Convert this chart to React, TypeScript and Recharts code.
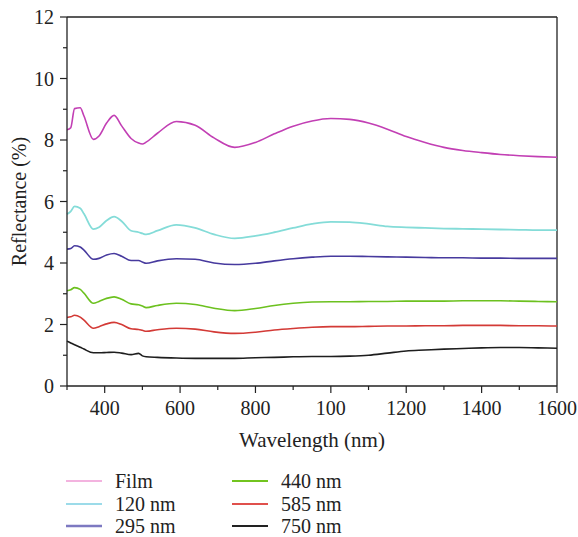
import { Label, Line, LineChart, ReferenceLine, XAxis, YAxis } from "recharts";

// sample wavelengths (nm) shared by every curve
const wavelengths = [
  300, 310, 320, 335, 345, 370, 385, 405, 425, 445, 470, 490, 500, 510, 540, 590, 640, 690, 745, 800, 850,
  900, 950, 1000, 1050, 1100, 1150, 1200, 1250, 1300, 1350, 1400, 1450, 1500, 1550, 1600,
];

const film = [
  8.33, 8.4, 9.02, 9.05, 8.78, 8.02, 8.13, 8.55, 8.8, 8.46, 8.05, 7.9, 7.87, 7.93, 8.22, 8.6, 8.48, 8.07, 7.76,
  7.92, 8.2, 8.45, 8.62, 8.7, 8.67, 8.55, 8.35, 8.11, 7.92, 7.76, 7.66, 7.59, 7.53, 7.49, 7.46, 7.44,
];
const nm120 = [
  5.59, 5.68, 5.84, 5.78, 5.6, 5.1, 5.16, 5.38, 5.51, 5.36, 5.05, 5.0, 4.96, 4.93, 5.05, 5.24, 5.14, 4.93, 4.8,
  4.88, 5.0, 5.14, 5.27, 5.34, 5.33, 5.27, 5.19, 5.16, 5.14, 5.12, 5.11, 5.1, 5.09, 5.08, 5.07, 5.07,
];
const nm295 = [
  4.45, 4.47, 4.56, 4.52, 4.42, 4.12, 4.15, 4.26, 4.31, 4.22, 4.08, 4.08, 4.03, 3.99, 4.07, 4.14, 4.12, 4.0, 3.95,
  3.99, 4.07, 4.14, 4.19, 4.22, 4.22, 4.21, 4.2, 4.19, 4.18, 4.17, 4.17, 4.16, 4.16, 4.15, 4.15, 4.15,
];
const nm440 = [
  3.1, 3.13, 3.2, 3.14, 3.02, 2.69, 2.75, 2.85, 2.9, 2.82, 2.67, 2.64, 2.6, 2.55, 2.62, 2.69, 2.65, 2.53, 2.45,
  2.52, 2.62, 2.69, 2.73, 2.74, 2.74, 2.75, 2.75, 2.76, 2.76, 2.76, 2.77, 2.77, 2.77, 2.76, 2.75, 2.74,
];
const nm585 = [
  2.23, 2.25, 2.3, 2.24, 2.14, 1.88, 1.93, 2.02, 2.07, 2.0, 1.86, 1.84, 1.81, 1.78, 1.83, 1.88, 1.85, 1.76, 1.71,
  1.75, 1.82, 1.87, 1.91, 1.93, 1.93, 1.94, 1.95, 1.95, 1.96, 1.96, 1.97, 1.97, 1.97, 1.96, 1.96, 1.95,
];
const nm750 = [
  1.46, 1.4, 1.34, 1.26, 1.2, 1.08, 1.08, 1.09, 1.1, 1.07, 1.02, 1.06, 0.98, 0.95, 0.93, 0.91, 0.9, 0.9, 0.9,
  0.92, 0.93, 0.95, 0.96, 0.96, 0.97, 1.0, 1.07, 1.14, 1.17, 1.2, 1.22, 1.24, 1.25, 1.25, 1.24, 1.23,
];

const xTicks = [300, 400, 500, 600, 700, 800, 900, 1000, 1100, 1200, 1300, 1400, 1500, 1600];
const yTicks = [0, 1, 2, 3, 4, 5, 6, 7, 8, 9, 10, 11, 12];
// the source figure prints "100" under 1000
const xTickText: Record<number, string> = {
  400: "400", 600: "600", 800: "800", 1000: "100", 1200: "1200", 1400: "1400", 1600: "1600",
};

const series = [
  { key: "film", name: "Film", values: film, color: "#c23fb4", legend: "#f3b3df", width: 1.6 },
  { key: "nm120", name: "120 nm", values: nm120, color: "#84dcd8", legend: "#9cdbe9", width: 1.8 },
  { key: "nm295", name: "295 nm", values: nm295, color: "#473a9e", legend: "#7d79c1", width: 1.6 },
  { key: "nm440", name: "440 nm", values: nm440, color: "#6cc11f", legend: "#72c41f", width: 1.6 },
  { key: "nm585", name: "585 nm", values: nm585, color: "#d33a36", legend: "#e0504c", width: 1.6 },
  { key: "nm750", name: "750 nm", values: nm750, color: "#1e1e1e", legend: "#222222", width: 1.6 },
];

const data = wavelengths.map((wl, i) => {
  const row: Record<string, number> = { wl };
  series.forEach((s) => {
    row[s.key] = s.values[i];
  });
  return row;
});

const FONT = "'Liberation Serif', 'Times New Roman', serif";
const INK = "#222";

function XTick({ x, y, payload }: any) {
  const major = payload.value % 200 === 0;
  return (
    <g>
      <line x1={x} x2={x} y1={y} y2={y + (major ? 7 : 4)} stroke={INK} strokeWidth={1.2} />
      {major && (
        <text x={x} y={y + 15} dy="0.71em" textAnchor="middle" fontFamily={FONT} fontSize={20} fill={INK}>
          {xTickText[payload.value]}
        </text>
      )}
    </g>
  );
}

function YTick({ x, y, payload }: any) {
  const major = payload.value % 2 === 0;
  return (
    <g>
      <line x1={x - (major ? 7 : 4)} x2={x} y1={y} y2={y} stroke={INK} strokeWidth={1.2} />
      {major && (
        <text x={x - 13} y={y} dy="0.355em" textAnchor="end" fontFamily={FONT} fontSize={20} fill={INK}>
          {payload.value}
        </text>
      )}
    </g>
  );
}

const legendCols = [series.slice(0, 3), series.slice(3)];

export default function App() {
  return (
    <div style={{ position: "absolute", left: 0, top: 0, width: 578, height: 537, background: "#fff" }}>
      <LineChart width={578} height={537} data={data} margin={{ top: 17, right: 21, bottom: 150, left: 66 }}>
        <XAxis
          dataKey="wl"
          type="number"
          domain={[300, 1600]}
          ticks={xTicks}
          interval={0}
          height={1}
          tickSize={0}
          tickMargin={0}
          tickLine={false}
          tick={<XTick />}
          axisLine={{ stroke: INK, strokeWidth: 1.3 }}
        >
          <Label
            content={({ viewBox }: any) => (
              <text
                x={viewBox.x + viewBox.width / 2}
                y={447}
                textAnchor="middle"
                fontFamily={FONT}
                fontSize={21}
                fill={INK}
              >
                Wavelength (nm)
              </text>
            )}
          />
        </XAxis>
        <YAxis
          type="number"
          domain={[0, 12]}
          ticks={yTicks}
          interval={0}
          width={1}
          tickSize={0}
          tickMargin={0}
          tickLine={false}
          tick={<YTick />}
          axisLine={{ stroke: INK, strokeWidth: 1.3 }}
        >
          <Label
            content={({ viewBox }: any) => {
              const cy = viewBox.y + viewBox.height / 2;
              return (
                <text
                  x={26}
                  y={cy}
                  transform={`rotate(-90 26 ${cy})`}
                  textAnchor="middle"
                  fontFamily={FONT}
                  fontSize={20}
                  fill={INK}
                >
                  Reflectance (%)
                </text>
              );
            }}
          />
        </YAxis>
        <ReferenceLine y={12} stroke={INK} strokeWidth={1.3} />
        <ReferenceLine x={1600} stroke={INK} strokeWidth={1.3} />
        {series.map((s) => (
          <Line
            key={s.key}
            type="monotone"
            dataKey={s.key}
            name={s.name}
            stroke={s.color}
            strokeWidth={s.width}
            dot={false}
            isAnimationActive={false}
          />
        ))}
      </LineChart>
      {legendCols.map((col, ci) =>
        col.map((s, ri) => (
          <div
            key={s.key}
            style={{
              position: "absolute",
              left: ci === 0 ? 66 : 232,
              top: 481 + ri * 22.5 - 9,
              height: 18,
              lineHeight: "18px",
              display: "flex",
              alignItems: "center",
              fontFamily: FONT,
              fontSize: 20,
              color: INK,
              whiteSpace: "nowrap",
            }}
          >
            <svg width={36} height={6} style={{ marginRight: 13 }}>
              <line x1={0} x2={36} y1={3} y2={3} stroke={s.legend} strokeWidth={s.key === "nm295" ? 2.4 : 1.8} />
            </svg>
            <span>{s.name}</span>
          </div>
        ))
      )}
    </div>
  );
}
